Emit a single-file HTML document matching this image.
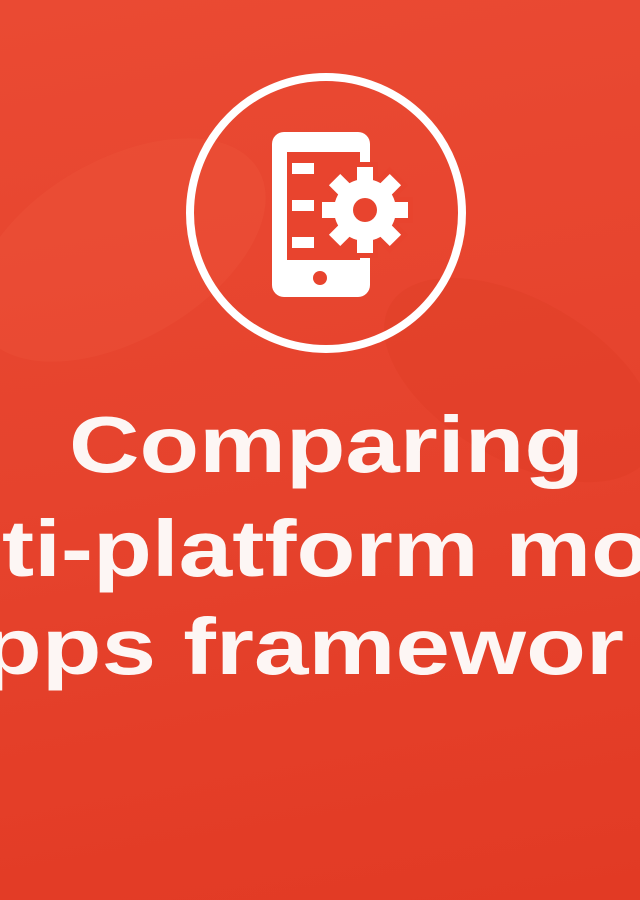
<!DOCTYPE html>
<html><head><style>
html,body{margin:0;padding:0;width:640px;height:900px;overflow:hidden}
body{background:linear-gradient(170deg,#ea4a33 0%,#e6432d 50%,#e23a24 100%)}
svg{display:block}
</style></head><body>
<svg width="640" height="900" viewBox="0 0 640 900" xmlns="http://www.w3.org/2000/svg">
<defs>
<g id="gear">
<circle cx="0" cy="0" r="31"/>
<rect x="-8" y="-43" width="16" height="86"/>
<rect x="-8" y="-43" width="16" height="86" transform="rotate(45)"/>
<rect x="-8" y="-43" width="16" height="86" transform="rotate(90)"/>
<rect x="-8" y="-43" width="16" height="86" transform="rotate(135)"/>
</g>
</defs>
<ellipse cx="120" cy="250" rx="160" ry="90" fill="#f05a40" opacity="0.25" transform="rotate(-30 120 250)"/>
<ellipse cx="520" cy="380" rx="150" ry="80" fill="#d8351f" opacity="0.2" transform="rotate(30 520 380)"/>
<circle cx="326" cy="213" r="136" fill="none" stroke="#fff" stroke-width="8"/>
<rect x="272" y="132" width="98" height="165" rx="12" fill="#fff"/>
<rect x="287" y="152" width="73" height="108" fill="#e8442e"/>
<circle cx="320" cy="278" r="7" fill="#e8442e"/>
<rect x="292" y="163" width="22" height="11" fill="#fff"/>
<rect x="292" y="200" width="22" height="11" fill="#fff"/>
<rect x="292" y="237" width="22" height="11" fill="#fff"/>
<g transform="translate(365 210)">
<use href="#gear" fill="#e8442e" stroke="#e8442e" stroke-width="10"/>
<use href="#gear" fill="#fff"/>
<circle r="12" fill="#e8442e"/>
</g>
<g font-family="Liberation Sans, sans-serif" font-weight="bold" font-size="80" fill="#fdf6f4">
<text x="69" y="472" textLength="515" lengthAdjust="spacingAndGlyphs">Comparing</text>
<text x="2" y="576" textLength="648" lengthAdjust="spacingAndGlyphs">ti-platform mo</text>
<text x="-18" y="674" textLength="642" lengthAdjust="spacingAndGlyphs">pps framewor</text>
</g>
</svg>
</body></html>
